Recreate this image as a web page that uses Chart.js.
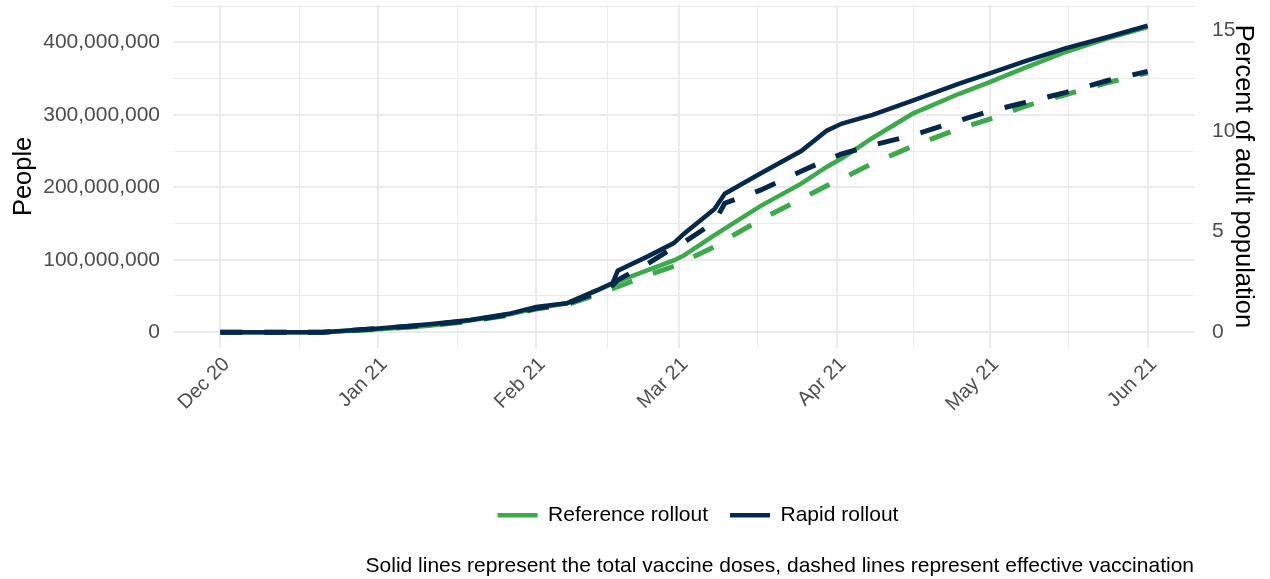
<!DOCTYPE html>
<html>
<head>
<meta charset="utf-8">
<script src="https://cdn.jsdelivr.net/npm/chart.js@4.4.1/dist/chart.umd.min.js"></script>
<style>
  html, body { margin: 0; padding: 0; background: #fff; }
  #wrap { width: 1270px; height: 579px; }
</style>
</head>
<body>
<div id="wrap"><canvas id="rollout"></canvas></div>
<script>
// days since 1 Dec 2020
const days = [0, 20, 31, 41, 49, 57, 62, 68, 74, 77, 78, 84, 89, 91, 97, 99, 106, 114, 119, 122, 128, 136, 145, 151, 158, 166, 174, 182];

// millions of people
const referenceDoses = [0, 0, 4, 9, 16, 25, 33, 40, 58, 67, 70, 86, 99, 106, 134, 143, 174, 205, 228, 240, 268, 302, 329, 345, 365, 387, 405, 421];
const rapidDoses = [0, 0, 5, 11, 17, 26, 35, 40, 58, 68, 85, 105, 123, 136, 170, 191, 219, 250, 278, 288, 300, 320, 343, 357, 374, 392, 407, 423];
const referenceEffective = [0, 0, 4, 9, 15, 24, 32, 38, 52, 60, 63, 79, 91, 98, 118, 127, 155, 184, 202, 212, 233, 257, 281, 294, 312, 328, 344, 358];
const rapidEffective = [0, 0, 5, 10, 16, 25, 33, 39, 55, 65, 72, 95, 117, 124, 152, 178, 196, 222, 238, 246, 258, 272, 292, 305, 317, 331, 347, 360];

const monthDays = [0, 31, 62, 90, 121, 151, 182];
const monthLabels = ['Dec 20', 'Jan 21', 'Feb 21', 'Mar 21', 'Apr 21', 'May 21', 'Jun 21'];
const peopleTicks = [0, 50, 100, 150, 200, 250, 300, 350, 400, 450];
const percentTicks = [0, 5, 10, 15];

const green = '#3aaa4a';
const navy = '#04294a';
const font = 'Liberation Sans';

function series(vals) {
    return days.map((d, i) => ({ x: d, y: vals[i] * 1e6 }));
}

// minor x gridlines halfway between months
const xTicks = [];
monthDays.forEach((d, i) => {
    xTicks.push(d);
    if (i < monthDays.length - 1) xTicks.push((d + monthDays[i + 1]) / 2);
});

function noPad(scale) {
    scale.paddingTop = 0;
    scale.paddingBottom = 0;
    scale.paddingLeft = 0;
    scale.paddingRight = 0;
}

// legend is centred a little right of the plot panel
const legendShift = {
    id: 'legendShift',
    afterLayout(chart) {
        chart.legend.left += 14;
        chart.legend.right += 14;
    }
};

const ctx = document.getElementById('rollout');

new Chart(ctx, {
    type: 'line',
    data: {
        datasets: [
            { label: 'Reference rollout', data: series(referenceDoses), borderColor: green, backgroundColor: green, borderWidth: 4.5, order: 3 },
            { label: 'Rapid rollout', data: series(rapidDoses), borderColor: navy, backgroundColor: navy, borderWidth: 4.5, order: 1 },
            { label: 'ref-eff', data: series(referenceEffective), borderColor: green, backgroundColor: green, borderWidth: 5, borderDash: [22, 22], order: 2 },
            { label: 'rapid-eff', data: series(rapidEffective), borderColor: navy, backgroundColor: navy, borderWidth: 5, borderDash: [22, 22], order: 0 }
        ]
    },
    plugins: [legendShift],
    options: {
        responsive: true,
        maintainAspectRatio: false,
        animation: false,
        layout: { padding: { top: 5, left: 0, right: 0, bottom: 0 } },
        elements: {
            point: { radius: 0 },
            line: { tension: 0, borderCapStyle: 'butt', borderJoinStyle: 'miter' }
        },
        scales: {
            x: {
                type: 'linear',
                min: -9.1,
                max: 191.1,
                afterBuildTicks: (scale) => { scale.ticks = xTicks.map(v => ({ value: v })); },
                afterFit: (scale) => { scale.height = 135; noPad(scale); },
                border: { display: false },
                grid: {
                    color: '#ebebeb',
                    drawTicks: false,
                    lineWidth: (c) => monthDays.includes(c.tick.value) ? 2 : 1
                },
                ticks: {
                    autoSkip: false,
                    minRotation: 45,
                    maxRotation: 45,
                    padding: 5,
                    labelOffset: 6,
                    color: '#4d4d4d',
                    font: { family: font, size: 20 },
                    callback: (v) => {
                        const i = monthDays.indexOf(v);
                        return i >= 0 ? monthLabels[i] : '';
                    }
                }
            },
            y: {
                position: 'left',
                min: -21.5e6,
                max: 451.5e6,
                afterBuildTicks: (scale) => { scale.ticks = peopleTicks.map(v => ({ value: v * 1e6 })); },
                afterFit: (scale) => { scale.width = 174; noPad(scale); },
                border: { display: false },
                grid: {
                    color: '#ebebeb',
                    drawTicks: false,
                    lineWidth: (c) => (c.tick.value / 1e6) % 100 === 0 ? 2 : 1
                },
                ticks: {
                    padding: 14,
                    color: '#4d4d4d',
                    font: { family: font, size: 21 },
                    callback: (v) => (v / 1e6) % 100 === 0 ? v.toLocaleString('en-US') : ''
                },
                title: {
                    display: true,
                    text: 'People',
                    color: '#000',
                    font: { family: font, size: 25.5 },
                    padding: { top: 9, bottom: 0 }
                }
            },
            y2: {
                position: 'right',
                min: -21.5 / 27.78,
                max: 451.5 / 27.78,
                afterBuildTicks: (scale) => { scale.ticks = percentTicks.map(v => ({ value: v })); },
                afterFit: (scale) => { scale.width = 76; noPad(scale); },
                border: { display: false },
                grid: { display: false, drawTicks: false },
                ticks: {
                    padding: 18,
                    color: '#4d4d4d',
                    font: { family: font, size: 21 }
                },
                title: {
                    display: true,
                    text: 'Percent of adult population',
                    color: '#000',
                    font: { family: font, size: 25.5 },
                    padding: { top: 12, bottom: 0 }
                }
            }
        },
        plugins: {
            tooltip: { enabled: false },
            legend: {
                position: 'bottom',
                fullSize: false,
                labels: {
                    boxWidth: 40,
                    boxHeight: 0,
                    padding: 22,
                    color: '#000',
                    font: { family: font, size: 21 },
                    filter: (item) => item.datasetIndex < 2,
                    sort: (a, b) => a.datasetIndex - b.datasetIndex
                }
            },
            subtitle: {
                display: true,
                position: 'bottom',
                align: 'end',
                fullSize: false,
                text: 'Solid lines represent the total vaccine doses, dashed lines represent effective vaccination',
                color: '#000',
                font: { family: font, size: 21, weight: 'normal' },
                padding: { top: 18, bottom: 0 }
            }
        }
    }
});
</script>
</body>
</html>
